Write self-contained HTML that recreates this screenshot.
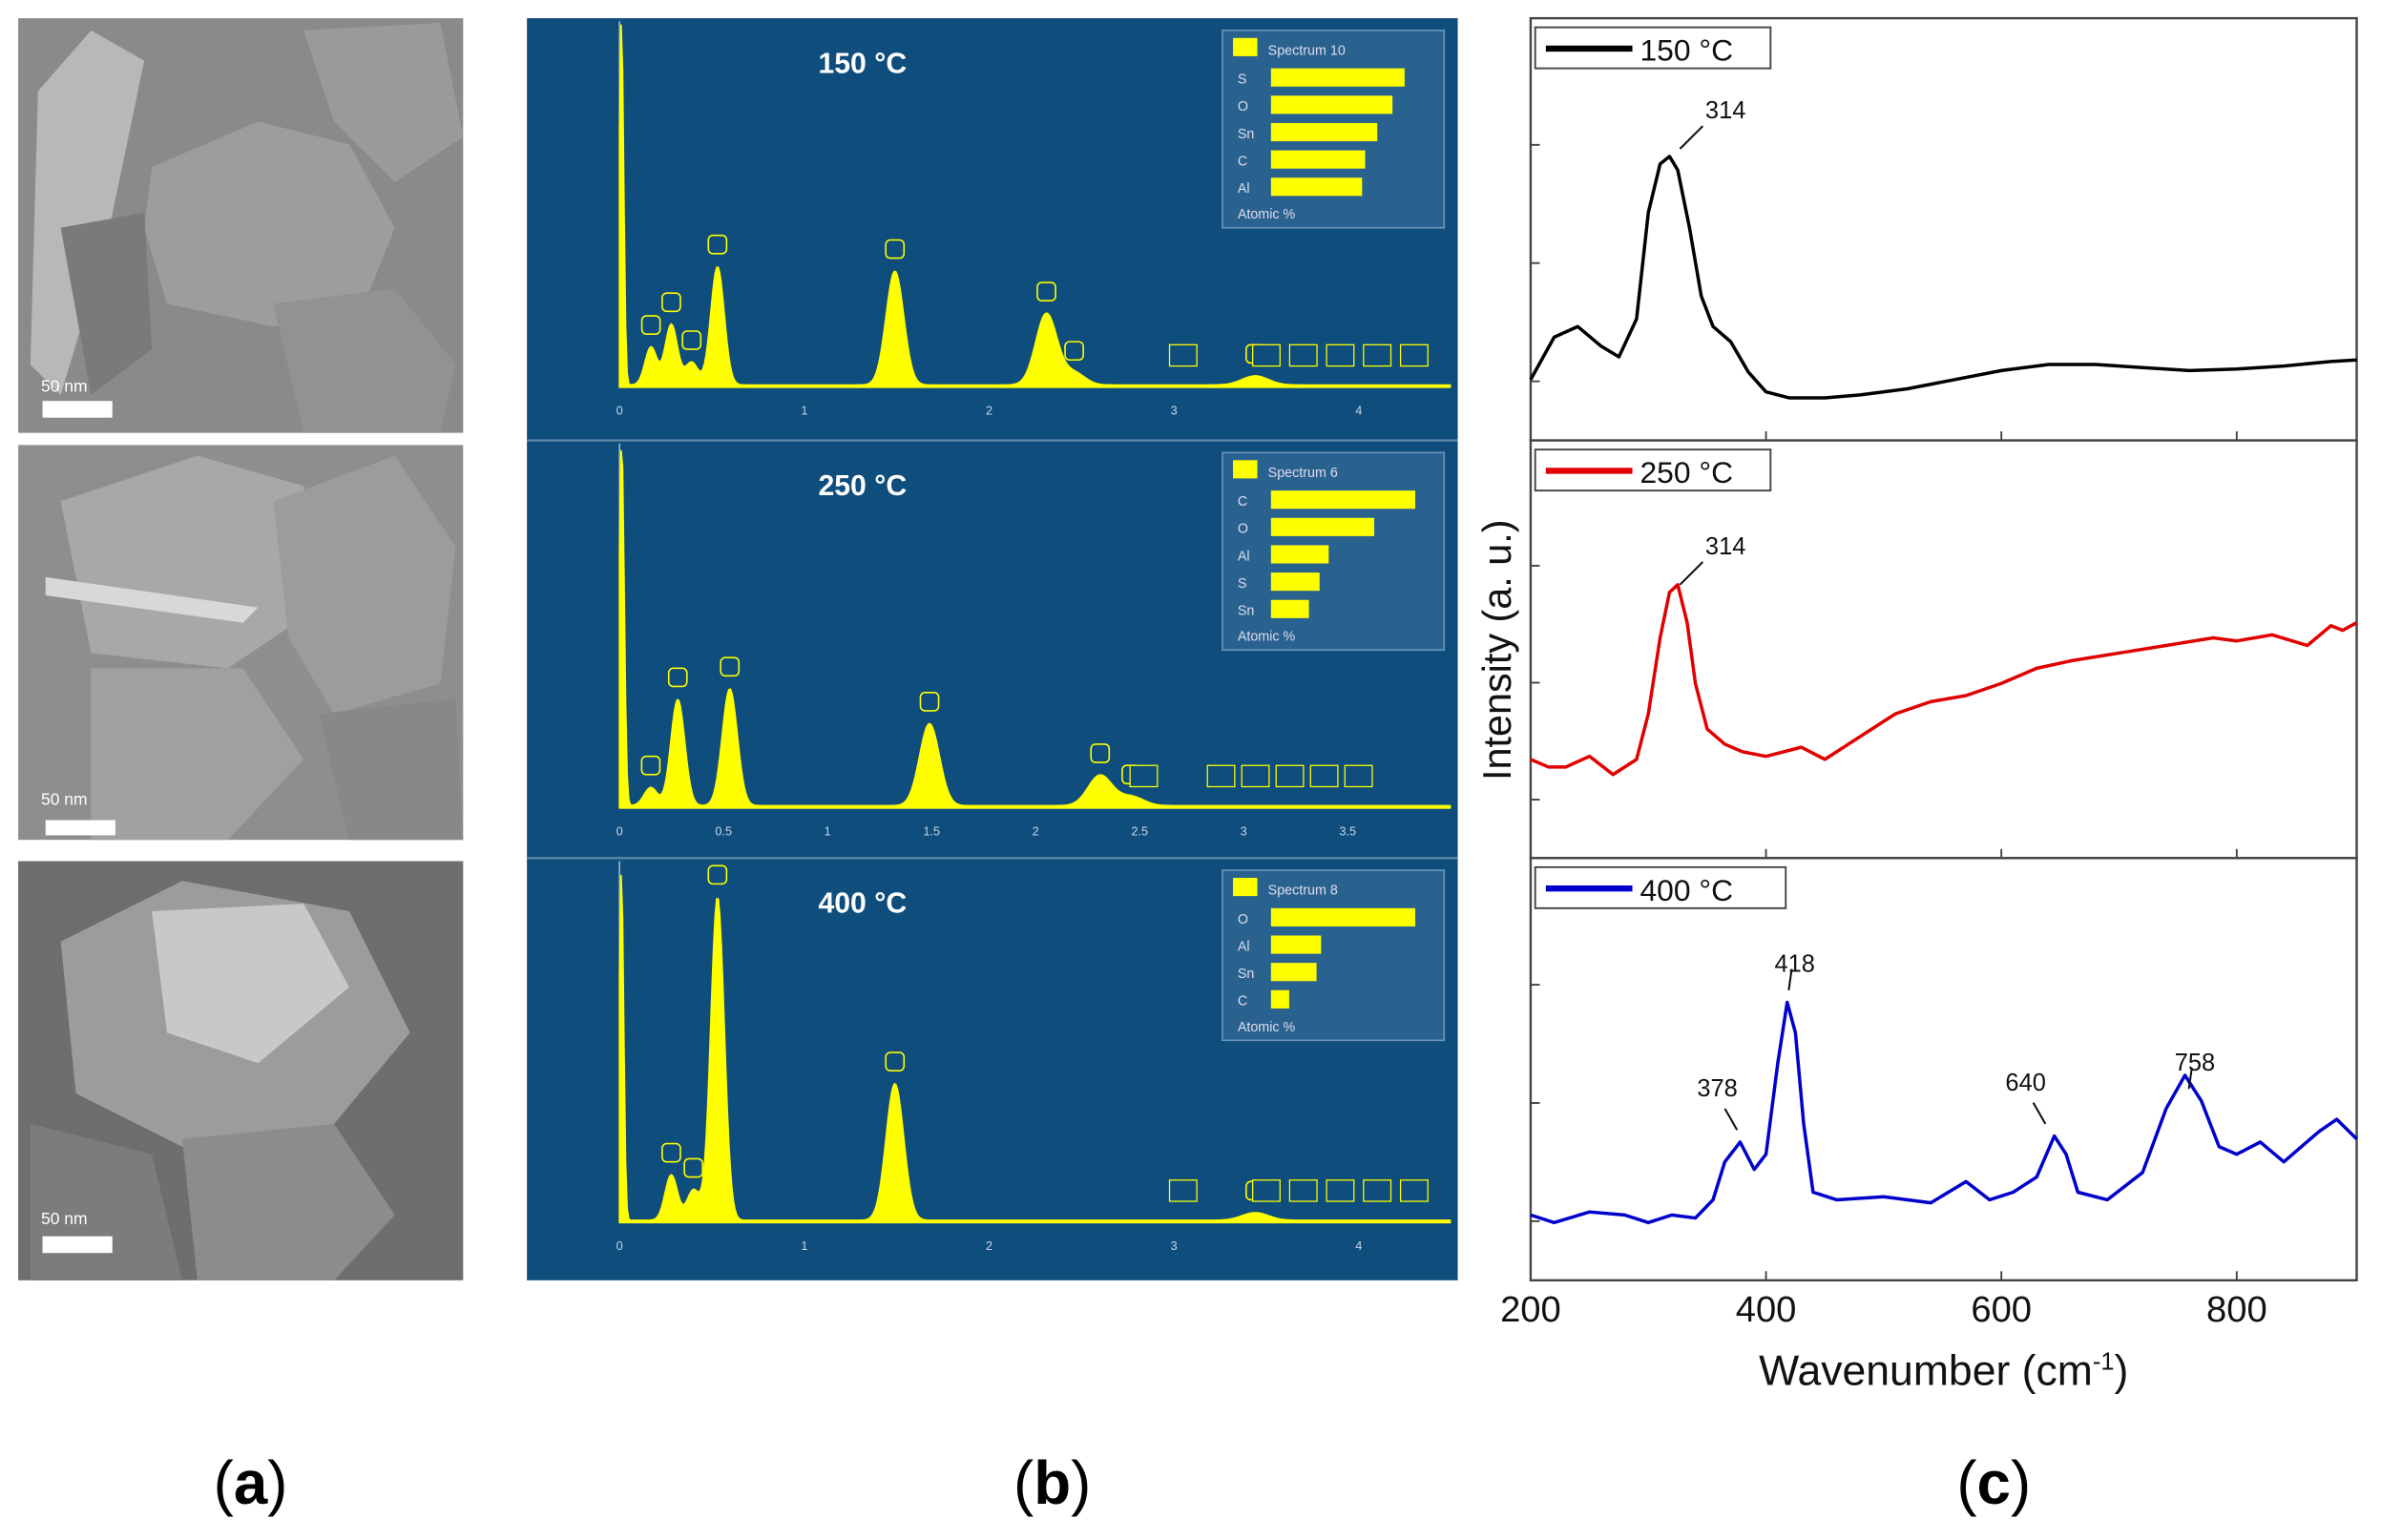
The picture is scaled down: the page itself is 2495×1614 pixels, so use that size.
<!DOCTYPE html>
<html><head><meta charset="utf-8"><style>
html,body{margin:0;padding:0;background:#fff;}
svg{display:block;}
text{font-family:"Liberation Sans",sans-serif;}
</style></head><body>
<svg id="fig" width="2495" height="1614" viewBox="0 0 1568 1014" preserveAspectRatio="none" xmlns="http://www.w3.org/2000/svg">
<!-- (a) SEM images -->
<g>
<rect x="12" y="12" width="293" height="273" fill="#8a8a8a"/>
<polygon points="100,110 170,80 230,95 260,150 240,200 180,215 110,200 95,150" fill="#9d9d9d"/>
<polygon points="25,60 60,20 95,40 70,160 40,260 20,240" fill="#b8b8b8"/>
<polygon points="180,200 260,190 300,240 290,285 200,285" fill="#929292"/>
<polygon points="200,20 290,15 305,90 260,120 220,80" fill="#9a9a9a"/>
<polygon points="40,150 95,140 100,230 60,260" fill="#7a7a7a"/>
<rect x="28" y="264" width="46" height="11" fill="#fff"/>
<text x="27" y="258" font-size="11" fill="#fff">50 nm</text>
</g>
<g>
<rect x="12" y="293" width="293" height="260" fill="#8e8e8e"/>
<polygon points="40,330 130,300 200,320 210,400 150,440 60,430" fill="#a8a8a8"/>
<polygon points="180,330 260,300 300,360 290,450 220,470 190,420" fill="#9c9c9c"/>
<polygon points="60,440 160,440 200,500 150,553 60,553" fill="#a0a0a0"/>
<polygon points="210,470 300,460 305,553 230,553" fill="#888"/>
<polygon points="30,380 170,400 160,410 30,392" fill="#d8d8d8"/>
<rect x="30" y="540" width="46" height="10" fill="#fff"/>
<text x="27" y="530" font-size="11" fill="#fff">50 nm</text>
</g>
<g>
<rect x="12" y="567" width="293" height="276" fill="#6e6e6e"/>
<polygon points="40,620 120,580 230,600 270,680 220,740 130,760 50,720" fill="#9c9c9c"/>
<polygon points="100,600 200,595 230,650 170,700 110,680" fill="#c8c8c8"/>
<polygon points="120,750 220,740 260,800 220,843 130,843" fill="#8c8c8c"/>
<polygon points="20,740 100,760 120,843 20,843" fill="#7c7c7c"/>
<rect x="28" y="814" width="46" height="11" fill="#fff"/>
<text x="27" y="806" font-size="11" fill="#fff">50 nm</text>
</g>
<text x="165" y="990" font-size="40" font-family="Liberation Serif" text-anchor="middle">(<tspan font-weight="bold">a</tspan>)</text>

<!-- (b) EDS -->
<rect x="347" y="12" width="613" height="831" fill="#0e4d7c"/>
<g id="eds"></g>
<text x="693" y="990" font-size="40" font-family="Liberation Serif" text-anchor="middle">(<tspan font-weight="bold">b</tspan>)</text>

<!-- (c) Raman -->
<g id="raman"></g>
<text x="1313" y="990" font-size="40" font-family="Liberation Serif" text-anchor="middle">(<tspan font-weight="bold">c</tspan>)</text>
</svg>
<script>
// ---------- Raman data ----------
const ramanTicks = [200, 400, 600, 800];
const wn150 = [200,220,240,260,275,290,300,310,318,325,335,345,355,370,385,400,420,450,480,520,560,600,640,680,720,760,800,840,880,902];
const int150 = [40,68,75,62,55,80,150,182,187,178,140,95,75,65,45,32,28,28,30,34,40,46,50,50,48,46,47,49,52,53];
const wn250 = [200,215,230,250,270,290,300,310,318,325,333,340,350,365,380,400,430,450,470,490,510,540,570,600,630,660,700,740,780,800,830,860,880,890,902];
const int250 = [65,60,60,67,55,65,95,145,175,180,155,115,85,75,70,67,73,65,75,85,95,103,107,115,125,130,135,140,145,143,147,140,153,150,155];
const wn400 = [200,220,250,280,300,320,340,355,365,378,390,400,410,418,425,432,440,460,500,540,570,590,610,630,645,655,665,690,720,740,756,770,785,800,820,840,870,885,902];
const int400 = [43,38,45,43,38,43,41,53,78,91,73,83,143,183,163,103,58,53,55,51,65,53,58,68,95,83,58,53,71,113,135,118,88,83,91,78,98,106,93];
const peakLabels = [["314",150,314],["314",250,314],["378",400,378],["418",400,418],["640",400,640],["758",400,758]];

// ---------- EDS data ----------
const edsEnergy1 = [0.01,0.17,0.28,0.39,0.53,1.49,2.31,2.46,3.44];
const edsHeight1 = [240,25,40,15,78,75,47,8,6];
const edsEnergy2 = [0.01,0.15,0.28,0.53,1.49,2.31,2.46];
const edsHeight2 = [240,12,70,77,54,20,6];
const edsEnergy3 = [0.01,0.28,0.4,0.53,1.49,3.44];
const edsHeight3 = [230,30,20,213,90,5];
const eds1Elems = ["S","O","Sn","C","Al"], eds1Vals = [88,80,70,62,60];
const eds2Elems = ["C","O","Al","S","Sn"], eds2Vals = [95,68,38,32,25];
const eds3Elems = ["O","Al","Sn","C"], eds3Vals = [95,33,30,12];

const NS="http://www.w3.org/2000/svg";
function mk(tag,attrs,parent){const e=document.createElementNS(NS,tag);for(const k in attrs)e.setAttribute(k,attrs[k]);parent.appendChild(e);return e;}

// ---- Raman drawing ----
const R=document.getElementById('raman');
const xR = w => 1008 + (w-200)*0.775;
const panels=[{top:12,bot:290,wn:wn150,iv:int150,col:"#000",name:"150",lab:"150 °C"},
              {top:290,bot:565,wn:wn250,iv:int250,col:"#e00000",name:"250",lab:"250 °C"},
              {top:565,bot:843,wn:wn400,iv:int400,col:"#0000cc",name:"400",lab:"400 °C"}];
const yR=(p,v)=>p.bot - v;
panels.forEach(p=>{
  const fr=mk('rect',{x:1008,y:p.top,width:544,height:p.bot-p.top,fill:"#fff",stroke:"#444","stroke-width":1.5},R);
  
  
  for(let t=0;t<3;t++){const yy=p.top+(p.bot-p.top)*(0.3+0.28*t);
    mk('line',{x1:1008,x2:1014,y1:yy,y2:yy,stroke:"#444","stroke-width":1.2},R);}
  ramanTicks.forEach(t=>{mk('line',{x1:xR(t),x2:xR(t),y1:p.bot,y2:p.bot-6,stroke:"#444","stroke-width":1.2},R);});
  const pts=p.wn.map((w,i)=>xR(w)+","+yR(p,p.iv[i])).join(" ");
  const pl=mk('polyline',{points:pts,fill:"none",stroke:p.col,"stroke-width":2.2,"stroke-linejoin":"round"},R);
  
  
  const lg=mk('g',{},R);
  
  
  const lw = p.name==="400"?165:155;
  mk('rect',{x:1011,y:p.top+6,width:lw,height:27,fill:"#fff",stroke:"#444","stroke-width":1.2},lg);
  mk('line',{x1:1018,x2:1075,y1:p.top+20,y2:p.top+20,stroke:p.col,"stroke-width":4},lg);
  const tx=mk('text',{x:1080,y:p.top+28,"font-size":20,fill:"#111"},lg);tx.textContent=p.lab;
});
peakLabels.forEach(l=>{
  const p=panels.find(q=>q.name===String(l[1]));
  const i=p.wn.findIndex(w=>w>=l[2]);
  const px=xR(l[2]), py=yR(p,p.iv[i]);
  const t=mk('text',{x:px+(l[0]==="314"?40:(l[0]==="378"||l[0]==="640")?-15:5),y:py-(l[0]==="314"?25:(l[0]==="378"||l[0]==="640")?30:20),"font-size":16,"text-anchor":"middle",fill:"#111"},R);
  t.textContent=l[0];
  
  
  mk('line',{x1:px+(l[0]==="314"?25:(l[0]==="378"||l[0]==="640")?-10:3),y1:py-(l[0]==="314"?20:22),x2:px+(l[0]==="314"?10:(l[0]==="378"||l[0]==="640")?-2:1),y2:py-(l[0]==="314"?5:8),stroke:"#111","stroke-width":1.3},R);
});
ramanTicks.forEach(t=>{const e=mk('text',{x:xR(t),y:870,"font-size":24,"text-anchor":"middle",fill:"#111"},R);e.textContent=t;
  
  });
const xt=mk('text',{x:1280,y:912,"font-size":28,"text-anchor":"middle",fill:"#111"},R);
xt.innerHTML='Wavenumber (cm<tspan dy="-10" font-size="16">-1</tspan><tspan dy="10">)</tspan>';


const yt=mk('text',{x:0,y:0,"font-size":26,"text-anchor":"middle",fill:"#111",transform:"translate(995,428) rotate(-90)"},R);
yt.textContent="Intensity (a. u.)";



// ---- EDS drawing ----
const E=document.getElementById('eds');
const edsP=[{top:12,base:255,pxk:121.7,ticks:[0,1,2,3,4],en:edsEnergy1,h:edsHeight1,title:"150 °C",el:eds1Elems,v:eds1Vals,spec:"Spectrum 10",name:"150"},
            {top:290,base:532,pxk:137,ticks:[0,0.5,1,1.5,2,2.5,3,3.5],en:edsEnergy2,h:edsHeight2,title:"250 °C",el:eds2Elems,v:eds2Vals,spec:"Spectrum 6",name:"250"},
            {top:565,base:805,pxk:121.7,ticks:[0,1,2,3,4],en:edsEnergy3,h:edsHeight3,title:"400 °C",el:eds3Elems,v:eds3Vals,spec:"Spectrum 8",name:"400"}];
edsP.forEach((p,k)=>{
  if(k>0) mk('line',{x1:347,x2:960,y1:p.top,y2:p.top,stroke:"#5d86a8","stroke-width":1.5},E);
  mk('line',{x1:408,x2:408,y1:p.top+2,y2:p.base,stroke:"#9cb8cf","stroke-width":1},E);
  mk('line',{x1:408,x2:955,y1:p.base,y2:p.base,stroke:"#9cb8cf","stroke-width":1},E);
  p.ticks.forEach(t=>{const e=mk('text',{x:408+t*p.pxk,y:p.base+18,"font-size":8,"text-anchor":"middle",fill:"#c8d8e6"},E);e.textContent=t;});
  const xE=en=>408+en*p.pxk;
  let pts=[];
  for(let x=408;x<=955;x+=1){
    const en=(x-408)/p.pxk;let y=1.5;
    p.en.forEach((c,i)=>{const s=c<0.05?0.012:0.03+c*0.012;y+=p.h[i]*Math.exp(-0.5*Math.pow((en-c)/s,2));});
    pts.push(x+","+Math.max(p.top+2,p.base-y));
  }
  const poly=mk('polygon',{points:"408,"+p.base+" "+pts.join(" ")+" 955,"+p.base,fill:"#ffff00",stroke:"#ffff00","stroke-width":1},E);
  
  
  const t=mk('text',{x:568,y:p.top+36,"font-size":19,"font-weight":"bold","text-anchor":"middle",fill:"#fff"},E);
  t.textContent=p.title;
  
  
  const ig=mk('g',{},E);
  
  
  mk('rect',{x:805,y:p.top+8,width:146,height:p.el.length*18+40,fill:"#2a628f",stroke:"#6d96b8"},ig);
  mk('rect',{x:812,y:p.top+13,width:16,height:12,fill:"#ffff00"},ig);
  const st=mk('text',{x:835,y:p.top+24,"font-size":9,fill:"#dde"},ig);st.textContent=p.spec;
  p.el.forEach((el,i)=>{const yy=p.top+33+i*18;
    const lt=mk('text',{x:815,y:yy+10,"font-size":9,fill:"#dde"},ig);lt.textContent=el;
    mk('rect',{x:837,y:yy,width:p.v[i],height:12,fill:"#ffff00"},ig);});
  const at=mk('text',{x:815,y:p.top+p.el.length*18+42,"font-size":9,fill:"#dde"},ig);at.textContent="Atomic %";
  // element markers
  p.en.forEach((c,i)=>{if(c<0.1)return;const x=xE(c),y=p.base-p.h[i]-14;
    mk('rect',{x:x-6,y:y-8,width:12,height:12,rx:3,fill:"#0e4d7c",stroke:"#ffff00","stroke-width":1},E);});
  [3.05,3.5,3.7,3.9,4.1,4.3].forEach(s=>{const x=408+s*121.7*(p.pxk===137?0.93:1);
    mk('rect',{x:x-9,y:p.base-28,width:18,height:14,fill:"#0e4d7c",stroke:"#ffff00","stroke-width":0.8},E);});
});
</script>
</body></html>
